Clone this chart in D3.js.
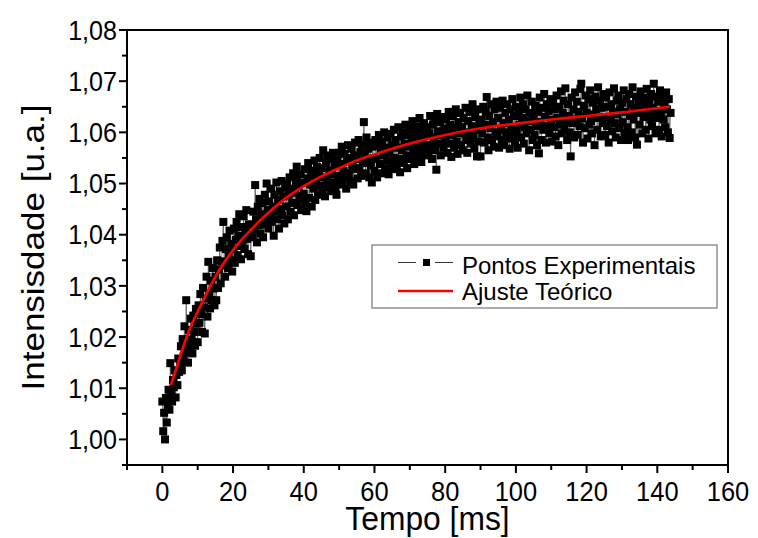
<!DOCTYPE html>
<html>
<head>
<meta charset="utf-8">
<script src="https://cdn.jsdelivr.net/npm/d3@7"></script>
<style>
  body { margin: 0; background: #fff; }
  svg { display: block; font-family: "Liberation Sans", Arial, sans-serif; }
</style>
</head>
<body>
<svg id="chart" width="758" height="538"></svg>
<script>
// intervalo de amostragem (ms) dos pontos experimentais
const passoTempo = 0.25;

// intensidade medida, um valor a cada 0,25 ms a partir de t = 0
const intensidade = [
  1.0074, 1.0016, 1.0052, 1.0000, 1.0081, 1.0033, 1.0066, 1.0097, 1.0058, 1.0149, 1.0088, 1.0074, 1.0116, 1.0102, 1.0135, 1.0082, 1.0126, 1.0106, 1.0158, 1.0132,
  1.0148, 1.0182, 1.0135, 1.0196, 1.0162, 1.0221, 1.0170, 1.0272, 1.0188, 1.0150, 1.0214, 1.0178, 1.0236, 1.0195, 1.0168, 1.0242, 1.0210, 1.0183, 1.0255, 1.0226,
  1.0190, 1.0262, 1.0228, 1.0284, 1.0245, 1.0210, 1.0296, 1.0258, 1.0207, 1.0275, 1.0318, 1.0240, 1.0347, 1.0282, 1.0256, 1.0310, 1.0272, 1.0335, 1.0295, 1.0262,
  1.0318, 1.0272, 1.0350, 1.0296, 1.0332, 1.0375, 1.0305, 1.0348, 1.0388, 1.0425, 1.0340, 1.0318, 1.0372, 1.0395, 1.0335, 1.0362, 1.0408, 1.0350, 1.0382, 1.0328,
  1.0372, 1.0412, 1.0345, 1.0390, 1.0425, 1.0360, 1.0398, 1.0440, 1.0378, 1.0352, 1.0415, 1.0388, 1.0436, 1.0372, 1.0405, 1.0448, 1.0392, 1.0362, 1.0420, 1.0400,
  1.0358, 1.0420, 1.0395, 1.0445, 1.0410, 1.0497, 1.0430, 1.0385, 1.0455, 1.0418, 1.0470, 1.0402, 1.0440, 1.0462, 1.0395, 1.0432, 1.0478, 1.0420, 1.0500, 1.0448,
  1.0412, 1.0465, 1.0438, 1.0490, 1.0425, 1.0455, 1.0398, 1.0478, 1.0445, 1.0502, 1.0430, 1.0468, 1.0412, 1.0485, 1.0450, 1.0505, 1.0438, 1.0475, 1.0422, 1.0492,
  1.0455, 1.0498, 1.0430, 1.0478, 1.0512, 1.0445, 1.0490, 1.0462, 1.0520, 1.0438, 1.0482, 1.0505, 1.0533, 1.0458, 1.0495, 1.0470, 1.0518, 1.0448, 1.0502, 1.0475,
  1.0480, 1.0528, 1.0462, 1.0446, 1.0510, 1.0540, 1.0472, 1.0498, 1.0525, 1.0455, 1.0515, 1.0490, 1.0545, 1.0468, 1.0505, 1.0532, 1.0478, 1.0520, 1.0550, 1.0495,
  1.0530, 1.0488, 1.0565, 1.0512, 1.0475, 1.0540, 1.0505, 1.0555, 1.0492, 1.0525, 1.0548, 1.0485, 1.0518, 1.0560, 1.0502, 1.0535, 1.0490, 1.0478, 1.0545, 1.0515,
  1.0560, 1.0505, 1.0538, 1.0572, 1.0498, 1.0525, 1.0558, 1.0512, 1.0490, 1.0545, 1.0575, 1.0520, 1.0550, 1.0505, 1.0568, 1.0535, 1.0498, 1.0555, 1.0580, 1.0528,
  1.0548, 1.0510, 1.0585, 1.0530, 1.0562, 1.0515, 1.0575, 1.0540, 1.0620, 1.0555, 1.0520, 1.0590, 1.0545, 1.0568, 1.0512, 1.0580, 1.0535, 1.0502, 1.0572, 1.0550,
  1.0525, 1.0585, 1.0548, 1.0512, 1.0575, 1.0595, 1.0538, 1.0565, 1.0520, 1.0582, 1.0555, 1.0600, 1.0530, 1.0570, 1.0545, 1.0590, 1.0518, 1.0560, 1.0597, 1.0540,
  1.0575, 1.0528, 1.0605, 1.0550, 1.0585, 1.0535, 1.0570, 1.0610, 1.0548, 1.0522, 1.0592, 1.0565, 1.0600, 1.0540, 1.0578, 1.0615, 1.0555, 1.0530, 1.0595, 1.0572,
  1.0608, 1.0548, 1.0585, 1.0622, 1.0562, 1.0538, 1.0598, 1.0575, 1.0612, 1.0550, 1.0590, 1.0628, 1.0565, 1.0542, 1.0605, 1.0580, 1.0618, 1.0555, 1.0595, 1.0570,
  1.0610, 1.0560, 1.0598, 1.0632, 1.0575, 1.0548, 1.0615, 1.0590, 1.0625, 1.0565, 1.0527, 1.0636, 1.0602, 1.0578, 1.0620, 1.0555, 1.0595, 1.0630, 1.0570, 1.0608,
  1.0585, 1.0625, 1.0560, 1.0600, 1.0640, 1.0578, 1.0615, 1.0552, 1.0595, 1.0632, 1.0570, 1.0608, 1.0645, 1.0582, 1.0558, 1.0620, 1.0598, 1.0638, 1.0575, 1.0610,
  1.0565, 1.0628, 1.0600, 1.0648, 1.0585, 1.0560, 1.0622, 1.0595, 1.0640, 1.0578, 1.0612, 1.0655, 1.0590, 1.0568, 1.0630, 1.0605, 1.0553, 1.0645, 1.0582, 1.0618,
  1.0553, 1.0625, 1.0598, 1.0650, 1.0580, 1.0615, 1.0640, 1.0669, 1.0590, 1.0565, 1.0632, 1.0608, 1.0655, 1.0585, 1.0620, 1.0572, 1.0645, 1.0600, 1.0660, 1.0592,
  1.0628, 1.0570, 1.0648, 1.0605, 1.0585, 1.0662, 1.0618, 1.0575, 1.0638, 1.0600, 1.0655, 1.0588, 1.0625, 1.0568, 1.0645, 1.0610, 1.0665, 1.0595, 1.0632, 1.0580,
  1.0650, 1.0602, 1.0570, 1.0640, 1.0615, 1.0668, 1.0590, 1.0628, 1.0655, 1.0578, 1.0610, 1.0645, 1.0598, 1.0672, 1.0622, 1.0565, 1.0638, 1.0605, 1.0660, 1.0585,
  1.0630, 1.0595, 1.0652, 1.0612, 1.0575, 1.0640, 1.0559, 1.0668, 1.0620, 1.0585, 1.0648, 1.0605, 1.0675, 1.0630, 1.0580, 1.0655, 1.0612, 1.0642, 1.0598, 1.0665,
  1.0625, 1.0582, 1.0658, 1.0610, 1.0645, 1.0592, 1.0672, 1.0628, 1.0575, 1.0650, 1.0615, 1.0680, 1.0598, 1.0638, 1.0662, 1.0605, 1.0686, 1.0620, 1.0585, 1.0655,
  1.0632, 1.0600, 1.0553, 1.0668, 1.0618, 1.0645, 1.0590, 1.0678, 1.0625, 1.0660, 1.0595, 1.0640, 1.0612, 1.0685, 1.0695, 1.0628, 1.0580, 1.0652, 1.0608, 1.0672,
  1.0638, 1.0588, 1.0665, 1.0615, 1.0682, 1.0622, 1.0598, 1.0658, 1.0635, 1.0575, 1.0670, 1.0645, 1.0605, 1.0688, 1.0628, 1.0662, 1.0592, 1.0648, 1.0618, 1.0675,
  1.0630, 1.0595, 1.0668, 1.0612, 1.0650, 1.0580, 1.0678, 1.0625, 1.0655, 1.0602, 1.0640, 1.0686, 1.0618, 1.0590, 1.0662, 1.0635, 1.0672, 1.0608, 1.0645, 1.0585,
  1.0658, 1.0620, 1.0682, 1.0598, 1.0640, 1.0665, 1.0610, 1.0585, 1.0675, 1.0632, 1.0655, 1.0600, 1.0688, 1.0625, 1.0648, 1.0590, 1.0670, 1.0576, 1.0638, 1.0660,
  1.0615, 1.0680, 1.0645, 1.0598, 1.0668, 1.0630, 1.0655, 1.0605, 1.0685, 1.0640, 1.0588, 1.0662, 1.0625, 1.0675, 1.0612, 1.0648, 1.0695, 1.0635, 1.0598, 1.0670,
  1.0628, 1.0660, 1.0605, 1.0682, 1.0640, 1.0592, 1.0668, 1.0625, 1.0655, 1.0610, 1.0678, 1.0645, 1.0600, 1.0665, 1.0589, 1.0638
];

// curva de ajuste
const ajusteTempo = [2.4, 4, 6, 8, 10, 12.5, 15, 17.5, 20, 22.5, 25, 27.5, 30, 35, 40, 45, 50, 55, 60, 65, 70, 80, 90, 100, 110, 120, 130, 143.5];
const ajusteValor = [1.0106, 1.0140, 1.0183, 1.0220, 1.0250, 1.0285, 1.0318, 1.0346, 1.0370, 1.0391, 1.0409, 1.0427, 1.0443, 1.0472, 1.0495, 1.0514, 1.0530, 1.0545, 1.0557, 1.0568, 1.0578, 1.0595, 1.0608, 1.0617, 1.0625, 1.0632, 1.0639, 1.0650];

const xTicks = [0, 20, 40, 60, 80, 100, 120, 140, 160];
const yTicks = [1.00, 1.01, 1.02, 1.03, 1.04, 1.05, 1.06, 1.07, 1.08];
const legendLabels = ["Pontos Experimentais", "Ajuste Teórico"];

const svg = d3.select("#chart");
const margin = { top: 30, right: 30, bottom: 73, left: 127 };
const width = +svg.attr("width") - margin.left - margin.right;
const height = +svg.attr("height") - margin.top - margin.bottom;

const x = d3.scaleLinear().domain([-10, 160]).range([0, width]);
const y = d3.scaleLinear().domain([0.995, 1.08]).range([height, 0]);

const g = svg.append("g").attr("transform", `translate(${margin.left},${margin.top})`);

const pontos = intensidade.map((v, i) => ({ t: i * passoTempo, v }));
const ajuste = ajusteTempo.map((t, i) => ({ t, v: ajusteValor[i] }));

// linha fina ligando os pontos
g.append("path")
  .datum(pontos)
  .attr("fill", "none")
  .attr("stroke", "#333")
  .attr("stroke-width", 0.6)
  .attr("d", d3.line().x(d => x(d.t)).y(d => y(d.v)));

const sq = 8;
g.append("g").selectAll("rect")
  .data(pontos)
  .join("rect")
  .attr("x", d => x(d.t) - sq / 2)
  .attr("y", d => y(d.v) - sq / 2)
  .attr("width", sq)
  .attr("height", sq)
  .attr("fill", "#000");

g.append("path")
  .datum(ajuste)
  .attr("fill", "none")
  .attr("stroke", "#f00")
  .attr("stroke-width", 2.6)
  .attr("d", d3.line().curve(d3.curveMonotoneX).x(d => x(d.t)).y(d => y(d.v)));

// moldura
g.append("rect")
  .attr("width", width)
  .attr("height", height)
  .attr("fill", "none")
  .attr("stroke", "#000")
  .attr("stroke-width", 2);

// eixo x
const xAxis = g.append("g").attr("transform", `translate(0,${height})`);
xAxis.selectAll("line")
  .data(d3.range(-10, 161, 10))
  .join("line")
  .attr("x1", d => x(d)).attr("x2", d => x(d))
  .attr("y1", 0).attr("y2", d => xTicks.includes(d) ? 8 : 5)
  .attr("stroke", "#000").attr("stroke-width", 2);
xAxis.selectAll("text")
  .data(xTicks)
  .join("text")
  .attr("transform", d => `translate(${x(d)},36) scale(0.91,1)`)
  .attr("text-anchor", "middle")
  .style("font-size", "28px")
  .text(d => d);

// eixo y
const yAxis = g.append("g");
yAxis.selectAll("line")
  .data(d3.range(0, 18).map(i => 0.995 + i * 0.005))
  .join("line")
  .attr("x1", 0).attr("x2", d => Math.abs(d * 100 - Math.round(d * 100)) < 1e-6 ? -8 : -5)
  .attr("y1", d => y(d)).attr("y2", d => y(d))
  .attr("stroke", "#000").attr("stroke-width", 2);
yAxis.selectAll("text")
  .data(yTicks)
  .join("text")
  .attr("transform", d => `translate(-10,${y(d)}) scale(0.93,1)`)
  .attr("dy", "0.36em")
  .attr("text-anchor", "end")
  .style("font-size", "27px")
  .text(d => d.toFixed(2).replace(".", ","));

// títulos
svg.append("text")
  .attr("transform", `translate(${margin.left + width / 2},530) scale(0.935,1)`)
  .attr("text-anchor", "middle")
  .style("font-size", "34px")
  .text("Tempo [ms]");

svg.append("text")
  .attr("transform", `translate(43.5,${margin.top + height / 2}) rotate(-90) scale(1,0.91)`)
  .attr("text-anchor", "middle")
  .style("font-size", "35px")
  .text("Intensisdade [u.a.]");

// legenda
const legend = svg.append("g").attr("transform", "translate(372,245)");
legend.append("rect")
  .attr("width", 345).attr("height", 63)
  .attr("fill", "#fff")
  .attr("stroke", "#777").attr("stroke-width", 1.2);

const row1 = legend.append("g").attr("transform", "translate(0,17.5)");
row1.append("line").attr("x1", 26).attr("x2", 44).attr("stroke", "#333").attr("stroke-width", 1);
row1.append("line").attr("x1", 63).attr("x2", 81).attr("stroke", "#333").attr("stroke-width", 1);
row1.append("rect").attr("x", 51).attr("y", -3.5).attr("width", 7).attr("height", 7).attr("fill", "#000");
row1.append("text").attr("x", 90).attr("y", 2.5).attr("dy", "0.36em").style("font-size", "24px").text(legendLabels[0]);

const row2 = legend.append("g").attr("transform", "translate(0,46)");
row2.append("line").attr("x1", 26).attr("x2", 81).attr("stroke", "#f00").attr("stroke-width", 2.6);
row2.append("text").attr("x", 90).attr("y", 0.5).attr("dy", "0.36em").style("font-size", "24px").text(legendLabels[1]);
</script>
</body>
</html>
